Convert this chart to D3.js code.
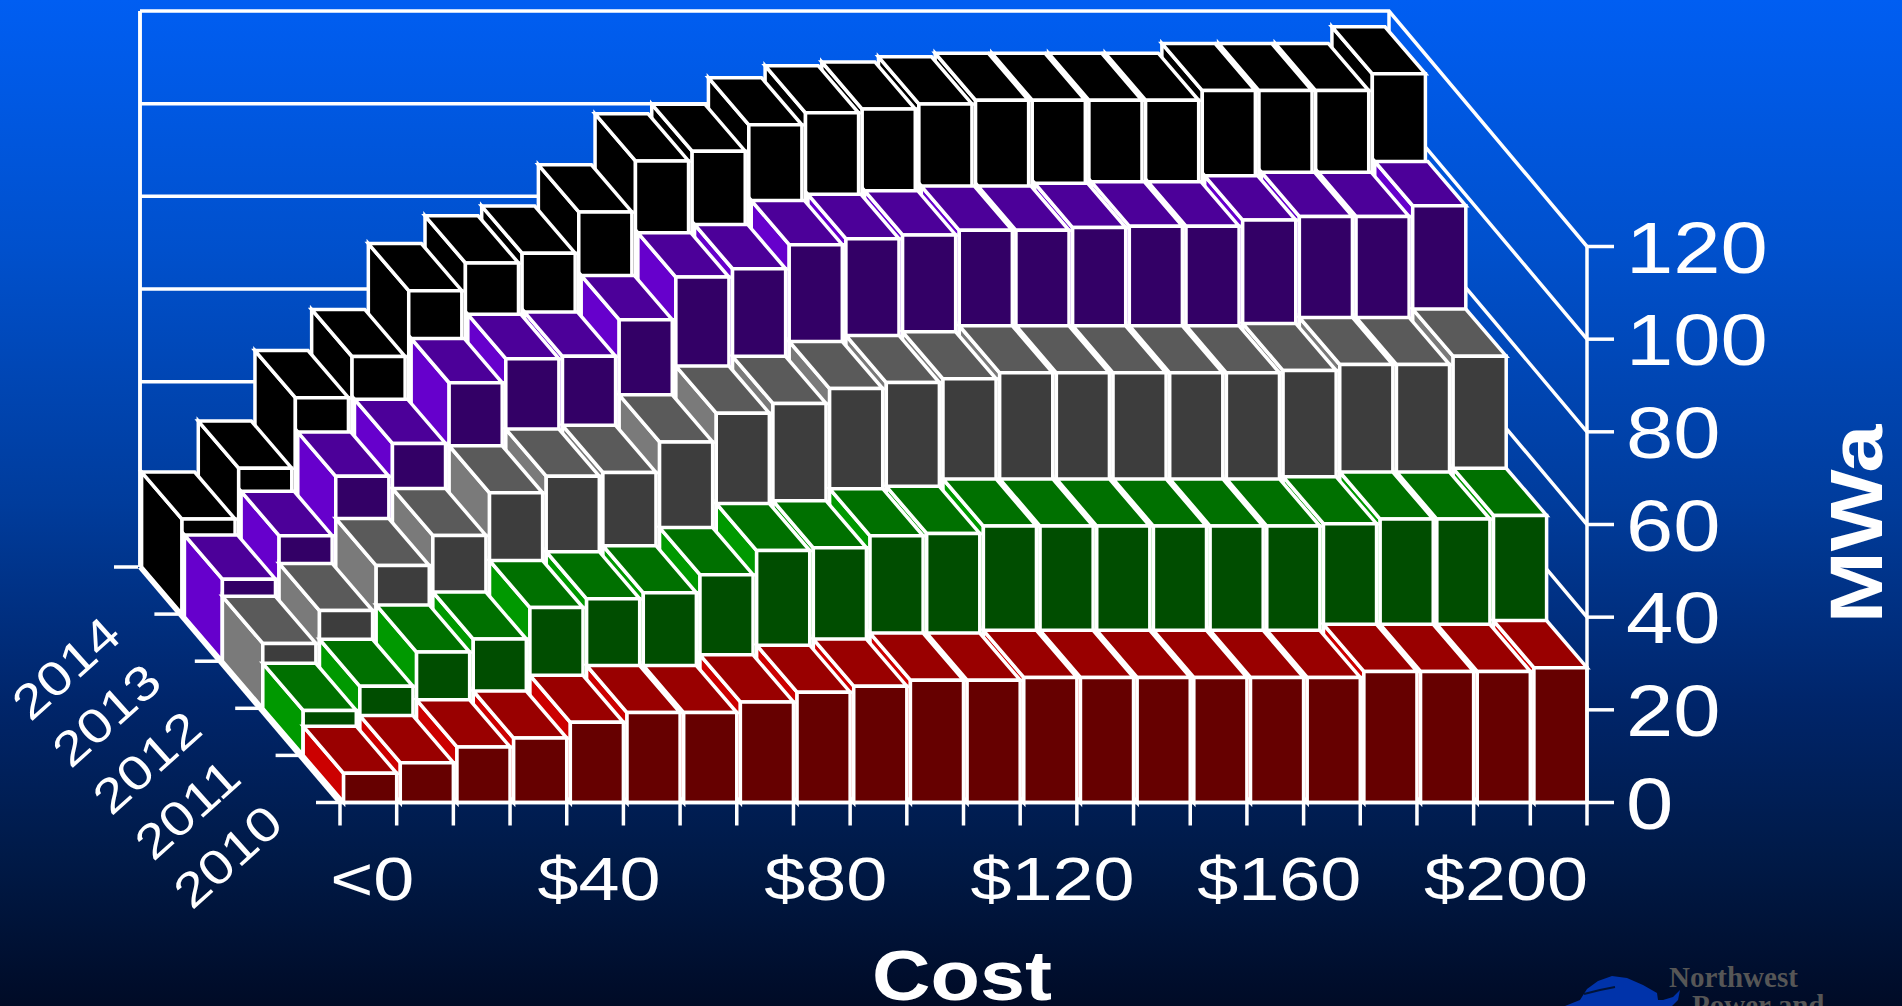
<!DOCTYPE html>
<html>
<head>
<meta charset="utf-8">
<title>Cost and MWa by year</title>
<script src="https://cdn.jsdelivr.net/npm/d3@7"></script>
<style>
html,body{margin:0;padding:0;background:#00102e;overflow:hidden}
svg{display:block}
text{font-family:"Liberation Sans",Arial,sans-serif;fill:#fff}
</style>
</head>
<body>
<svg id="chart" width="1902" height="1006"></svg>
<script>
// Supply available at each cost step, one list per year (MWa)
const costLabels = ["<0","$10","$20","$30","$40","$50","$60","$70","$80","$90","$100","$110","$120","$130","$140","$150","$160","$170","$180","$190","$200",">$200"];
const years = ["2010","2011","2012","2013","2014"];
const values2010 = [6.3,8.6,12,13.9,17.3,19.4,19.4,21.7,23.8,25.1,26.4,26.4,27,27,27,27,27,27,28.3,28.3,28.3,29.1];
const values2011 = [9.7,14.9,22.3,25.1,31.9,33.8,35.1,39,44.2,44.8,47.4,47.9,49.5,49.5,49.5,49.5,49.5,49.5,50,51,51,51.8];
const values2012 = [14,21.1,30.8,37.3,46.5,50.1,50.9,57.5,63.7,65.8,69,70.3,71.1,72.4,72.4,72.4,72.4,72.4,72.9,74.2,74.2,76];
const values2013 = [17.7,27.1,39.9,47,60.1,65.3,65.8,73.7,82.9,84.7,89.9,91.2,92,93,93,93.6,93.9,93.9,95.2,96,96,98.3];
const values2014 = [20.5,31.5,46.7,55.6,69.8,75.8,77.9,86.8,97.8,99.9,105.6,108.2,109,110.1,110.9,110.9,110.9,110.9,113,113,113,116.6];
const yTicks = [0,20,40,60,80,100,120];
const yearValues = [values2010,values2011,values2012,values2013,values2014];

// Face shades per year: front, top, side
const shades = [
  {front:"#660000",top:"#990000",side:"#cc0000"},
  {front:"#004d00",top:"#007000",side:"#009900"},
  {front:"#3d3d3d",top:"#5a5a5a",side:"#7a7a7a"},
  {front:"#330066",top:"#4c0099",side:"#6600cc"},
  {front:"#000000",top:"#000000",side:"#000000"}
];

const svg = d3.select("#chart");

const defs = svg.append("defs");
const grad = defs.append("linearGradient").attr("id","bg").attr("x1",0).attr("y1",0).attr("x2",0).attr("y2",1);
[[0,"#005ef2"],[0.25,"#0050cc"],[0.5,"#003c9c"],[0.7,"#00256a"],[0.85,"#001a48"],[1,"#000b26"]].forEach(s=>
  grad.append("stop").attr("offset",s[0]).attr("stop-color",s[1]));
svg.append("rect").attr("width",1902).attr("height",1006).attr("fill","url(#bg)");

// Oblique projection: x across, value up, depth running up and to the left
const floorY = 802.5;
const x = d3.scaleLinear().domain([0,costLabels.length]).range([340,1587]);
const y = d3.scaleLinear().domain([0,120]).range([0,-556]);
const depthX = d3.scaleLinear().domain([0,5]).range([0,-202]);
const depthY = d3.scaleLinear().domain([0,5]).range([0,-235.5]);
const backX = d3.scaleLinear().domain([0,costLabels.length]).range([140,1389]);
const barGap = 3.6;
const rowDepth = [1,1,1,0.94,1];

const pt = (i,v,d) => [x(i)+depthX(d), floorY+y(v)+depthY(d)];
const backPt = (i,v) => [backX(i), floorY+y(v)+depthY(5)];
const polyLine = d3.line();

const wall = svg.append("g").attr("fill","none").attr("stroke","#fff").attr("stroke-width",3.5);
const n = costLabels.length;
// Back wall, gridlines and side wall
yTicks.forEach(t=>{
  wall.append("path").attr("d",polyLine([backPt(0,t),backPt(n,t),pt(n,t,0)]));
});
wall.append("path").attr("d",polyLine([backPt(0,0),backPt(0,120)]));
wall.append("path").attr("d",polyLine([backPt(n,0),backPt(n,120)]));

// Bars: back rows first, right to left inside each row so nearer faces overlap
const bars = svg.append("g").attr("stroke","#fff").attr("stroke-width",3.5).attr("stroke-linejoin","miter");
for(let r=years.length-1;r>=0;r--){
  const g = bars.append("g").attr("class","year-"+years[r]);
  const vals = yearValues[r], c = shades[r];
  for(let j=n-1;j>=0;j--){
    const v = vals[j];
    const l = j + barGap/(x(1)-x(0));
    const rgt = j + 1;
    const dF = r, dB = r + rowDepth[r];
    const poly = (pts,fill)=>g.append("path").attr("d",polyLine(pts)+"Z").attr("fill",fill);
    poly([pt(l,0,dF),pt(l,0,dB),pt(l,v,dB),pt(l,v,dF)],c.side);
    poly([pt(l,v,dF),pt(l,v,dB),pt(rgt,v,dB),pt(rgt,v,dF)],c.top);
    poly([pt(l,0,dF),pt(rgt,0,dF),pt(rgt,v,dF),pt(l,v,dF)],c.front);
  }
}

// Axes lines and ticks
const axes = svg.append("g").attr("fill","none").attr("stroke","#fff").attr("stroke-width",3.5);
axes.append("path").attr("d",polyLine([pt(0,0,0),pt(n,0,0)]));
axes.append("path").attr("d",polyLine([pt(n,0,0),pt(n,120,0)]));
axes.append("path").attr("d",polyLine([pt(0,0,0),backPt(0,0)])).attr("stroke-width",5);
axes.append("path").attr("d",polyLine([backPt(0,0),backPt(0,120)]));
d3.range(n+1).forEach(i=>{
  const p = pt(i,0,0);
  axes.append("path").attr("d",polyLine([p,[p[0],p[1]+23]]));
});
yTicks.forEach(t=>{
  const p = pt(n,t,0);
  axes.append("path").attr("d",polyLine([p,[p[0]+27,p[1]]]));
});
d3.range(6).forEach(r=>{
  const p = pt(0,0,r);
  axes.append("path").attr("d",polyLine([p,[p[0]-24,p[1]]]));
});

// Text helper: horizontally stretched lettering
function label(px,py,str,size,sx,opts={}){
  const rot = opts.rotate||0;
  return svg.append("text")
    .attr("transform",`translate(${px},${py}) rotate(${rot}) scale(${sx},1)`)
    .attr("text-anchor",opts.anchor||"middle")
    .attr("font-size",size)
    .attr("font-weight",opts.weight||"normal")
    .text(str);
}

yTicks.forEach(t=>{
  const p = pt(n,t,0);
  label(1626,p[1]+26,String(t),72,1.18,{anchor:"start"});
});
costLabels.forEach((c,i)=>{
  if(i%4===0) label((x(i)+x(i+1))/2+4,900,c,61,1.21);
});
years.forEach((yr,r)=>{
  const p = pt(0,0,r+0.5);
  label(p[0]-81,p[1]+90,yr,48,1.18,{rotate:-42});
});
label(962,1000,"Cost",71,1.14,{weight:"bold"});
label(1882,524,"MWa",74,1.17,{weight:"bold",rotate:-90});

// Logo in the lower right corner
const logo = svg.append("g");
logo.append("path").attr("fill","#0033aa").attr("d","M1565,1006 L1580,1000 L1587,989 L1598,981 L1612,976 L1627,978 L1643,985 L1657,993 L1658,1000 L1663,1000 L1673,997 L1680,990 L1678,1000 L1672,1006 Z");
logo.append("path").attr("fill","none").attr("stroke","#001438").attr("stroke-width",2).attr("d","M1584,994 L1600,990 L1615,987");
const serif = '"Liberation Serif",serif';
logo.append("text").attr("x",1669).attr("y",987).attr("font-size",29).attr("font-weight","bold").style("font-family",serif).style("fill","#565656").text("Northwest");
logo.append("text").attr("x",1692).attr("y",1015).attr("font-size",29).attr("font-weight","bold").style("font-family",serif).style("fill","#565656").text("Power and");
</script>
</body>
</html>
